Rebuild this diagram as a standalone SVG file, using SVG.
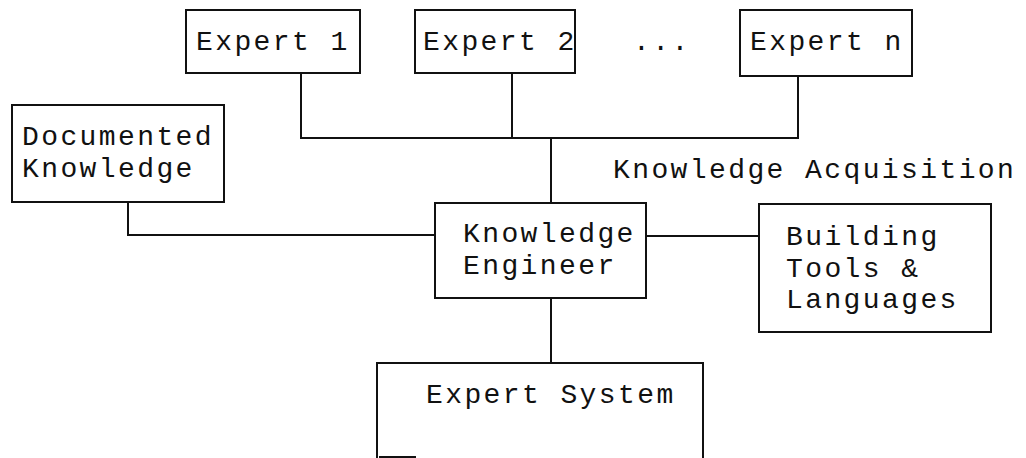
<svg xmlns="http://www.w3.org/2000/svg" width="1026" height="458" viewBox="0 0 1026 458">
  <style>
    .box { fill: #ffffff; stroke: #111111; stroke-width: 2; }
    .wire { fill: none; stroke: #111111; stroke-width: 2; }
    .lbl { font-family: "Liberation Mono", "Courier New", monospace; font-size: 28px; letter-spacing: 2.4px; fill: #111111; }
  </style>
  <rect width="1026" height="458" fill="#ffffff"/>

  <!-- connectors -->
  <g id="connectors">
    <polyline class="wire" points="301,73 301,138 798,138 798,76"/>
    <line class="wire" x1="512" y1="73" x2="512" y2="138"/>
    <line class="wire" x1="551" y1="138" x2="551" y2="203"/>
    <polyline class="wire" points="128,202 128,235 435,235"/>
    <line class="wire" x1="646" y1="236" x2="759" y2="236"/>
    <line class="wire" x1="551" y1="298" x2="551" y2="363"/>
  </g>

  <g id="expert1">
    <rect class="box" x="186" y="10" width="174" height="63"/>
    <text class="lbl" x="196" y="50">Expert 1</text>
  </g>

  <g id="expert2">
    <rect class="box" x="415" y="10" width="160" height="63"/>
    <text class="lbl" x="423" y="50">Expert 2</text>
  </g>

  <g id="ellipsis">
    <text class="lbl" x="633" y="50">...</text>
  </g>

  <g id="expertN">
    <rect class="box" x="740" y="10" width="172" height="66"/>
    <text class="lbl" x="750" y="50">Expert n</text>
  </g>

  <g id="documented-knowledge">
    <rect class="box" x="12" y="105" width="212" height="97"/>
    <text class="lbl" x="22" y="145">Documented</text>
    <text class="lbl" x="22" y="177">Knowledge</text>
  </g>

  <g id="knowledge-acquisition">
    <text class="lbl" x="613" y="178">Knowledge Acquisition</text>
  </g>

  <g id="knowledge-engineer">
    <rect class="box" x="435" y="203" width="211" height="95"/>
    <text class="lbl" x="463" y="242">Knowledge</text>
    <text class="lbl" x="463" y="274">Engineer</text>
  </g>

  <g id="building-tools">
    <rect class="box" x="759" y="204" width="232" height="128"/>
    <text class="lbl" x="786" y="245">Building</text>
    <text class="lbl" x="786" y="277">Tools &amp;</text>
    <text class="lbl" x="786" y="308">Languages</text>
  </g>

  <g id="expert-system">
    <rect class="box" x="377" y="363" width="326" height="110"/>
    <text class="lbl" x="426" y="403">Expert System</text>
    <line class="wire" x1="379" y1="457" x2="416" y2="457"/>
  </g>
</svg>
